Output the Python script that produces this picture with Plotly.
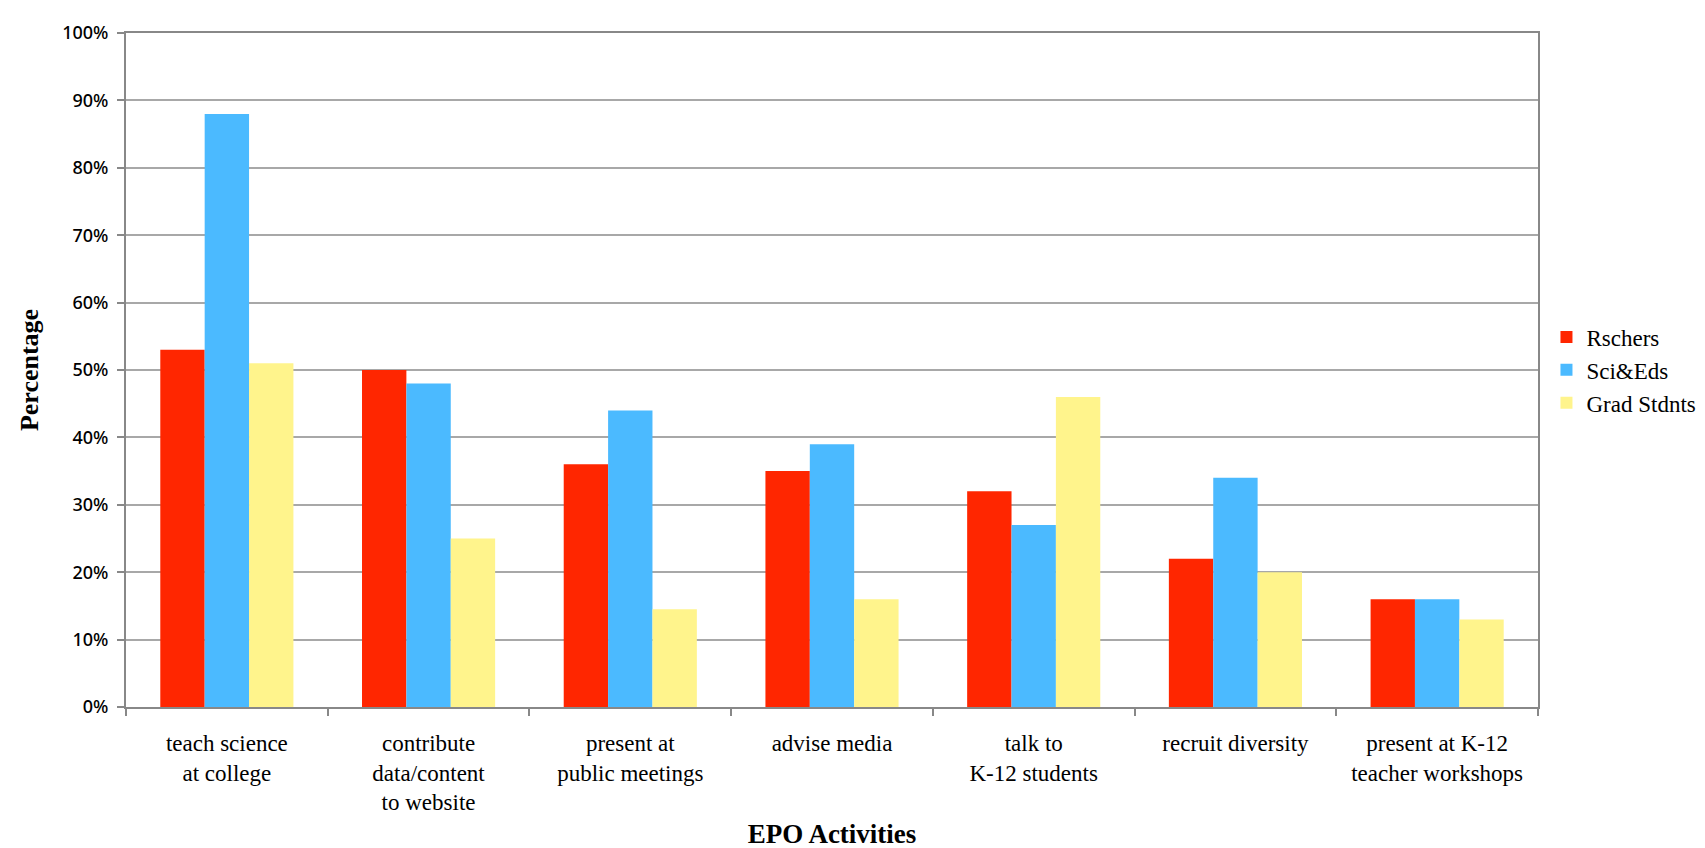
import plotly.graph_objects as go

categories = [
    "teach science<br>at college",
    "contribute<br>data/content<br>to website",
    "present at<br>public meetings",
    "advise media",
    "talk to<br>K-12 students",
    "recruit diversity",
    "present at K-12<br>teacher workshops",
]
series_names = ["Rschers", "Sci&Eds", "Grad Stdnts"]
rschers = [53, 50, 36, 35, 32, 22, 16]
sci_eds = [88, 48, 44, 39, 27, 34, 16]
grad_stdnts = [51, 25, 14.5, 16, 46, 20, 13]
colors = ["#FF2600", "#4BBAFF", "#FFF48C"]
y_ticks = list(range(0, 101, 10))
y_tick_labels = [f"{v}%" for v in y_ticks]

fig = go.Figure()
for name, vals, col in zip(series_names, [rschers, sci_eds, grad_stdnts], colors):
    fig.add_trace(go.Bar(
        x=categories, y=vals, name=name,
        marker=dict(color=col, line=dict(width=0)),
    ))

serif = "Liberation Serif"
fig.update_layout(
    width=1705, height=848,
    paper_bgcolor="white", plot_bgcolor="white",
    barmode="group", bargap=0.34, bargroupgap=0,
    margin=dict(l=118, r=159, t=25, b=140),
    showlegend=True,
    legend=dict(
        x=1.006, y=0.5, xanchor="left", yanchor="middle",
        font=dict(family=serif, size=23, color="black"),
        bgcolor="rgba(0,0,0,0)", itemwidth=30, tracegroupgap=0,
    ),
    font=dict(family=serif, color="black"),
)
fig.update_xaxes(
    type="category",
    tickson="boundaries",
    ticks="outside", ticklen=7, tickcolor="#888888", tickwidth=1.5,
    showline=True, linecolor="#888888", linewidth=2, mirror=True,
    showgrid=False,
    tickfont=dict(family=serif, size=23, color="black"),
    ticklabelstandoff=14,
    title=dict(text="<b>EPO Activities</b>", font=dict(family=serif, size=27, color="black"), standoff=10),
)
fig.update_yaxes(
    range=[0, 100],
    tickvals=y_ticks, ticktext=y_tick_labels,
    ticks="outside", ticklen=7, tickcolor="#888888", tickwidth=1.5,
    showline=True, linecolor="#888888", linewidth=2, mirror=True,
    showgrid=True, gridcolor="#A8A8A8", gridwidth=1.5,
    zeroline=False,
    tickfont=dict(family="Noto Sans", size=18, color="black", weight=500),
    ticklabelstandoff=5,
    title=dict(text="<b>Percentage</b>", font=dict(family=serif, size=26, color="black"), standoff=16),
)

fig.write_html("out.html")
